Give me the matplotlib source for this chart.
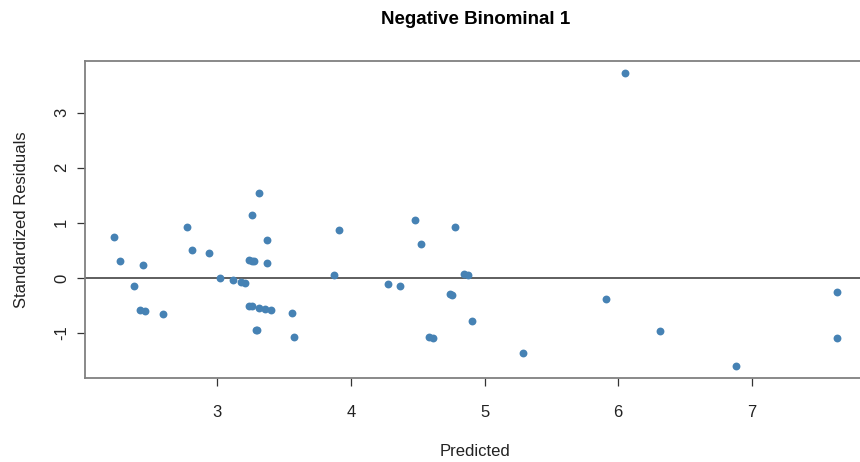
import numpy as np
import matplotlib.pyplot as plt

plt.rcParams['font.family'] = ['Liberation Sans', 'DejaVu Sans']

# predicted values and standardized residuals
predicted = [2.226, 2.27, 2.44, 2.38, 2.42, 2.46, 2.595, 2.77, 2.81, 2.94,
             3.02, 3.12, 3.18, 3.21, 3.31, 3.26, 3.375, 3.24, 3.26, 3.275,
             3.37, 3.24, 3.26, 3.31, 3.36, 3.40, 3.29, 3.30, 3.56, 3.575,
             3.914, 3.87, 4.48, 4.525, 4.78, 4.28, 4.37, 4.74, 4.756, 4.846,
             4.88, 4.906, 4.587, 4.614, 5.29, 5.913, 6.31, 6.886, 7.639, 7.639,
             6.048]
residuals = [0.74, 0.31, 0.24, -0.15, -0.59, -0.60, -0.655, 0.93, 0.50, 0.45,
             0.0, -0.04, -0.07, -0.085, 1.54, 1.15, 0.68, 0.32, 0.315, 0.31,
             0.27, -0.51, -0.515, -0.54, -0.56, -0.575, -0.94, -0.95, -0.64, -1.07,
             0.87, 0.055, 1.05, 0.62, 0.92, -0.115, -0.15, -0.30, -0.31, 0.067,
             0.055, -0.79, -1.067, -1.085, -1.36, -0.376, -0.96, -1.605, -0.26, -1.09,
             3.727]

x_ticks = [3, 4, 5, 6, 7]
y_ticks = [-1, 0, 1, 2, 3]

fig = plt.figure(figsize=(8.6, 4.62), dpi=100)
# right edge of the box runs past the image, as in the reference
ax = fig.add_axes([85 / 860, 84 / 462, 781 / 860, 317 / 462])

ax.scatter(predicted, residuals, s=32, color='steelblue', linewidths=0, zorder=3)
ax.axhline(0, color='#333333', lw=1.1, zorder=2)

# R style 4% padding around the data
ax.margins(x=0.04, y=0.04)
ax.set_xticks(x_ticks)
ax.set_yticks(y_ticks)
ax.set_yticklabels([str(v) for v in y_ticks], rotation=90, va='center')

for sp in ax.spines.values():
    sp.set_color('#808080')
    sp.set_linewidth(1.3)

ax.tick_params(direction='out', length=5.5, width=0.9, color='#333333',
               labelsize=12, labelcolor='#222222')
ax.tick_params(axis='x', pad=14)
ax.tick_params(axis='y', pad=6)

ax.set_xlabel('Predicted', fontsize=12, color='#222222', labelpad=17)
ax.set_ylabel('Standardized Residuals', fontsize=12, color='#222222', labelpad=18)
fig.text(476 / 860, 1 - 20 / 462, 'Negative Binominal 1', ha='center', va='center',
         fontsize=13.5, fontweight='bold')

fig.savefig('out.png', dpi=100)
